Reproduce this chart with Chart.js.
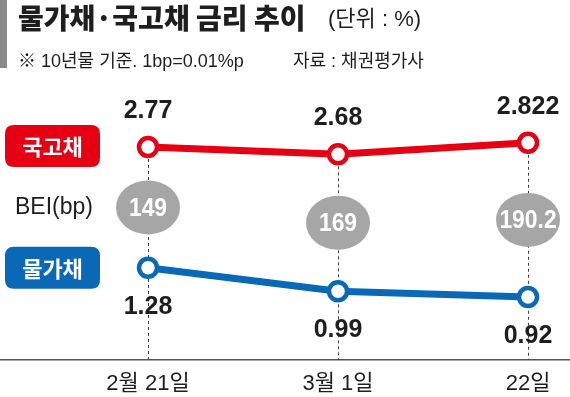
<!DOCTYPE html>
<html>
<head>
<meta charset="utf-8">
<script src="https://cdn.jsdelivr.net/npm/chart.js@4"></script>
<style>
  html, body { margin: 0; padding: 0; background: #fff; }
  #wrap { position: relative; width: 570px; height: 397px; }
</style>
</head>
<body>
<div id="wrap"><canvas id="rateChart" width="570" height="397"></canvas></div>
<script>
// data
const categories = ["2월 21일", "3월 1일", "22일"];
const ktbRates = [2.77, 2.68, 2.822];      // 국고채
const linkerRates = [1.28, 0.99, 0.92];    // 물가채
const beiValues = ["149", "169", "190.2"]; // BEI(bp)
const ktbLabels = ["2.77", "2.68", "2.822"];
const linkerLabels = ["1.28", "0.99", "0.92"];

const RED = "#e50014";
const BLUE = "#0a69b6";
const GRAY = "#a6a6a6";
const TEXT = "#1e1e1e";
const FONT = "'Liberation Sans', 'Noto Sans CJK KR', sans-serif";
const KFONT = "'Noto Sans CJK KR', sans-serif";

function roundRect(ctx, x, y, w, h, r) {
    ctx.beginPath();
    ctx.moveTo(x + r, y);
    ctx.lineTo(x + w - r, y);
    ctx.quadraticCurveTo(x + w, y, x + w, y + r);
    ctx.lineTo(x + w, y + h - r);
    ctx.quadraticCurveTo(x + w, y + h, x + w - r, y + h);
    ctx.lineTo(x + r, y + h);
    ctx.quadraticCurveTo(x, y + h, x, y + h - r);
    ctx.lineTo(x, y + r);
    ctx.quadraticCurveTo(x, y, x + r, y);
    ctx.closePath();
}

// dashed guides + BEI bubbles behind the lines
const guidePlugin = {
    id: "guides",
    beforeDatasetsDraw(chart) {
        const ctx = chart.ctx;
        const red = chart.getDatasetMeta(0).data;
        const blue = chart.getDatasetMeta(1).data;
        const bottom = chart.chartArea.bottom;
        ctx.save();
        ctx.strokeStyle = "#444";
        ctx.lineWidth = 1;
        ctx.setLineDash([3, 3]);
        red.forEach(pt => {
            ctx.beginPath();
            ctx.moveTo(Math.round(pt.x) + 0.5, pt.y);
            ctx.lineTo(Math.round(pt.x) + 0.5, bottom);
            ctx.stroke();
        });
        ctx.setLineDash([]);
        red.forEach((pt, i) => {
            const cy = (pt.y + blue[i].y) / 2;
            ctx.fillStyle = GRAY;
            ctx.beginPath();
            ctx.ellipse(pt.x, cy, 32, 27, 0, 0, Math.PI * 2);
            ctx.fill();
            ctx.save();
            ctx.translate(pt.x, cy + 1);
            ctx.scale(0.88, 1);
            ctx.fillStyle = "#fff";
            ctx.font = "bold 26px " + FONT;
            ctx.textAlign = "center";
            ctx.textBaseline = "middle";
            ctx.fillText(beiValues[i], 0, 0);
            ctx.restore();
        });
        ctx.restore();
    },
    afterDatasetsDraw(chart) {
        const ctx = chart.ctx;
        const red = chart.getDatasetMeta(0).data;
        const blue = chart.getDatasetMeta(1).data;
        ctx.save();
        ctx.fillStyle = TEXT;
        ctx.font = "bold 25px " + FONT;
        ctx.textAlign = "center";
        ctx.textBaseline = "middle";
        red.forEach((pt, i) => ctx.fillText(ktbLabels[i], pt.x, pt.y - 36));
        blue.forEach((pt, i) => ctx.fillText(linkerLabels[i], pt.x, pt.y + 39));

        // series tags on the left
        const tags = [["국고채", RED, red[0].y - 1], ["물가채", BLUE, blue[0].y]];
        tags.forEach(([txt, col, cy]) => {
            ctx.fillStyle = col;
            roundRect(ctx, 5, cy - 21, 95, 42, 9);
            ctx.fill();
            ctx.fillStyle = "#fff";
            ctx.font = "bold 22px " + KFONT;
            ctx.fillText(txt, 52.5, cy + 1);
        });
        ctx.fillStyle = TEXT;
        ctx.font = "23px " + FONT;
        ctx.fillText("BEI(bp)", 54, (red[0].y + blue[0].y) / 2);
        ctx.restore();
    },
    afterDraw(chart) {
        const ctx = chart.ctx;
        ctx.save();
        ctx.fillStyle = "#8a8a8a";
        ctx.fillRect(0, 0, 7, 68);
        ctx.fillStyle = TEXT;
        ctx.textBaseline = "middle";
        ctx.textAlign = "left";
        ctx.font = "900 28px " + KFONT;
        ctx.fillText("물가채·국고채 금리 추이", 18, 18);
        ctx.font = "22px " + FONT;
        ctx.fillText("(단위 : %)", 328, 20);
        ctx.font = "18px " + FONT;
        ctx.fillText("※ 10년물 기준. 1bp=0.01%p", 18, 62);
        ctx.fillText("자료 : 채권평가사", 293, 62);
        ctx.restore();
    }
};

const ctx = document.getElementById("rateChart").getContext("2d");
new Chart(ctx, {
    type: "line",
    data: {
        datasets: [
            {
                label: "국고채",
                data: ktbRates.map((v, i) => ({ x: i, y: v })),
                borderColor: RED,
                borderWidth: 7,
                pointRadius: 9,
                pointBorderWidth: 4.5,
                pointBackgroundColor: "#fff",
                pointBorderColor: RED,
                tension: 0
            },
            {
                label: "물가채",
                data: linkerRates.map((v, i) => ({ x: i, y: v })),
                borderColor: BLUE,
                borderWidth: 7,
                pointRadius: 9,
                pointBorderWidth: 4.5,
                pointBackgroundColor: "#fff",
                pointBorderColor: BLUE,
                tension: 0
            }
        ]
    },
    options: {
        responsive: false,
        animation: false,
        layout: { padding: 0, autoPadding: false },
        scales: {
            x: {
                type: "linear",
                min: -0.779,
                max: 2.221,
                afterBuildTicks: scale => {
                    scale.ticks = categories.map((c, i) => ({ value: i }));
                },
                afterFit: scale => { scale.height = 37; },
                grid: { display: false, drawTicks: false },
                border: { display: true, color: "#555", width: 1.5 },
                ticks: {
                    padding: 11,
                    color: TEXT,
                    font: { family: FONT, size: 22 },
                    callback: v => categories[v]
                }
            },
            y: {
                display: false,
                min: 0.143,
                max: 4.583
            }
        },
        plugins: {
            legend: { display: false },
            tooltip: { enabled: false }
        }
    },
    plugins: [guidePlugin]
});
</script>
</body>
</html>
